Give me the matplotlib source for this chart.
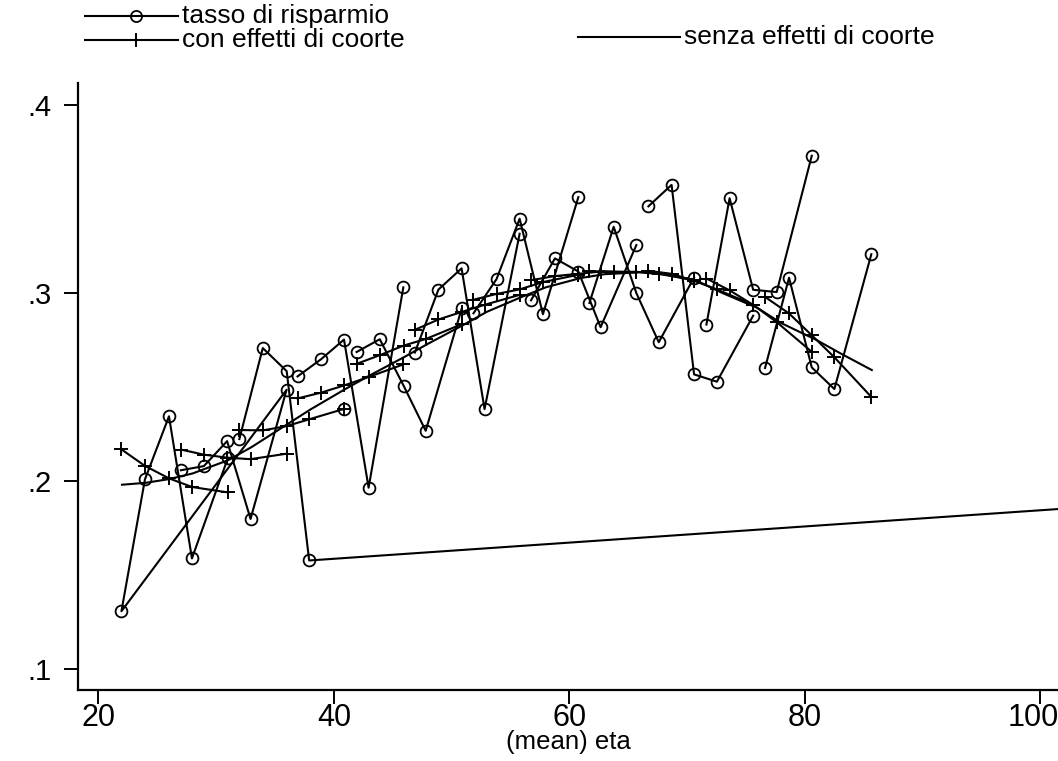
import numpy as np
import matplotlib
matplotlib.use("Agg")
import matplotlib.pyplot as plt
from matplotlib.lines import Line2D
from matplotlib import font_manager
import matplotlib.transforms as mtransforms

# ---- data ----
# mean age of each cohort at each of the 5 survey waves
eta_c1 = [21.95, 23.95, 25.99, 27.94, 31.00]
eta_c2 = [27.00, 28.95, 30.93, 32.92, 35.98]
eta_c3 = [31.97, 33.96, 35.99, 37.90, 40.85]
eta_c4 = [36.91, 38.92, 40.86, 42.95, 45.90]
eta_c5 = [41.93, 43.90, 45.92, 47.80, 50.87]
eta_c6 = [46.88, 48.88, 50.85, 52.80, 55.78]
eta_c7 = [51.86, 53.82, 55.78, 57.76, 60.77]
eta_c8 = [56.75, 58.78, 60.77, 62.66, 65.70]
eta_c9 = [61.71, 63.77, 65.70, 67.60, 70.60]
eta_c10 = [66.72, 68.69, 70.60, 72.54, 75.62]
eta_c11 = [71.65, 73.62, 75.62, 77.62, 80.60]
eta_c12 = [76.63, 78.67, 80.60, 82.52, 85.66]

# tasso di risparmio (observed)
ris_c1 = [0.1307, 0.2009, 0.2344, 0.1588, 0.2123]
ris_c2 = [0.2057, 0.2079, 0.2212, 0.1798, 0.2485]
ris_c3 = [0.2223, 0.2707, 0.2584, 0.1577, 0.2383]
ris_c4 = [0.2556, 0.2648, 0.2752, 0.1964, 0.3030]
ris_c5 = [0.2686, 0.2754, 0.2507, 0.2267, 0.2919]
ris_c6 = [0.2683, 0.3018, 0.3131, 0.2382, 0.3315]
ris_c7 = [0.2892, 0.3074, 0.3395, 0.2887, 0.3510]
ris_c8 = [0.2961, 0.3184, 0.3114, 0.2818, 0.3255]
ris_c9 = [0.2947, 0.3352, 0.2999, 0.2738, 0.3082]
ris_c10 = [0.3461, 0.3575, 0.2567, 0.2528, 0.2879]
ris_c11 = [0.2832, 0.3504, 0.3017, 0.3005, 0.3730]
ris_c12 = [0.2601, 0.3081, 0.2604, 0.2489, 0.3206]
# stray observation beyond the axis range (line from cohort 3)
eta_stray = [110.0]
ris_stray = [0.1887]

# con effetti di coorte (fitted)
con_c1 = [0.2168, 0.2080, 0.2014, 0.1968, 0.1939]
con_c2 = [0.2167, 0.2140, 0.2124, 0.2116, 0.2145]
con_c3 = [0.2271, 0.2269, 0.2292, 0.2328, 0.2383]
con_c4 = [0.2439, 0.2470, 0.2508, 0.2553, 0.2620]
con_c5 = [0.2623, 0.2669, 0.2720, 0.2755, 0.2834]
con_c6 = [0.2804, 0.2859, 0.2899, 0.2937, 0.2990]
con_c7 = [0.2964, 0.2995, 0.3019, 0.3058, 0.3097]
con_c8 = [0.3068, 0.3090, 0.3102, 0.3114, 0.3110]
con_c9 = [0.3115, 0.3113, 0.3113, 0.3101, 0.3071]
con_c10 = [0.3118, 0.3102, 0.3065, 0.3019, 0.2937]
con_c11 = [0.3077, 0.3014, 0.2937, 0.2845, 0.2687]
con_c12 = [0.2979, 0.2891, 0.2775, 0.2658, 0.2447]

# senza effetti di coorte (fitted age profile)
eta_senza = [22.0, 24, 26, 28, 31, 33, 36, 38, 41, 43, 46, 48, 51, 53, 56, 58,
             61, 63, 66, 68, 71, 73, 76, 78, 81, 83, 85.7]
senza = [0.198, 0.199, 0.201, 0.204, 0.211, 0.218, 0.230, 0.238, 0.249, 0.256,
         0.266, 0.273, 0.283, 0.290, 0.298, 0.303, 0.308, 0.310, 0.311, 0.310,
         0.306, 0.300, 0.292, 0.284, 0.275, 0.268, 0.259]

xticks = [20, 40, 60, 80, 100]
yticks = [0.1, 0.2, 0.3, 0.4]
ytick_labels = [".1", ".2", ".3", ".4"]

# ---- assemble series in data order (NaN = break) ----
nan = [np.nan]
eta_all = [eta_c1, eta_c2, eta_c3, eta_c4, eta_c5, eta_c6, eta_c7, eta_c8,
           eta_c9, eta_c10, eta_c11, eta_c12]
ris_all = [ris_c1, ris_c2, ris_c3, ris_c4, ris_c5, ris_c6, ris_c7, ris_c8,
           ris_c9, ris_c10, ris_c11, ris_c12]
con_all = [con_c1, con_c2, con_c3, con_c4, con_c5, con_c6, con_c7, con_c8,
           con_c9, con_c10, con_c11, con_c12]

# observed series: cohort 2 runs straight into cohort 1; cohort 3 runs to the stray point
rx, ry = [], []
rx += eta_c2 + eta_c1 + nan
ry += ris_c2 + ris_c1 + nan
rx += eta_c3[:4] + eta_stray + nan + [eta_c3[4]] + nan
ry += ris_c3[:4] + ris_stray + nan + [ris_c3[4]] + nan
for ex, ey in zip(eta_all[3:], ris_all[3:]):
    rx += ex + nan
    ry += ey + nan

cx, cy = [], []
for ex, ey in zip(eta_all, con_all):
    cx += ex + nan
    cy += ey + nan

plt.rcParams['font.family'] = ['Liberation Sans', 'DejaVu Sans']
installed = {f.name for f in font_manager.fontManager.ttflist}
narrow = 'Liberation Sans Narrow' if 'Liberation Sans Narrow' in installed else 'Liberation Sans'

W, H = 1058, 761
fig = plt.figure(figsize=(W / 100, H / 100), dpi=100)
ax = fig.add_axes([78 / W, 1 - 690 / H, (1058 - 78) / W, (690 - 83) / H])

lw = 1.5
ax.plot(eta_senza, senza, color='black', lw=lw, solid_joinstyle='round')
ax.plot(cx, cy, color='black', lw=lw, marker='+', ms=10, mew=1.4)
ax.plot(rx, ry, color='black', lw=lw, marker='o', ms=8.5, mfc='none', mew=1.3)

ax.set_xlim(18.26, 101.52)
ax.set_ylim(0.0888, 0.4117)
for s in ['top', 'right']:
    ax.spines[s].set_visible(False)
for s in ['left', 'bottom']:
    ax.spines[s].set_linewidth(1.6)
ax.set_xticks(xticks)
ax.set_xticklabels([str(t) for t in xticks])
ax.set_yticks(yticks)
ax.set_yticklabels(ytick_labels)
ax.tick_params(axis='both', direction='out', length=10, width=1.4,
               colors='black')
ax.tick_params(axis='y', pad=9, labelsize=21)
ax.tick_params(axis='x', pad=-1, labelsize=22)
for lab in ax.get_xticklabels():
    lab.set_fontfamily([narrow, 'Liberation Sans', 'DejaVu Sans'])
# keep the last label inside the figure, as in the scan
last = ax.get_xticklabels()[-1]
last.set_transform(last.get_transform() +
                   mtransforms.ScaledTranslation(-7 / 100, 0, fig.dpi_scale_trans))
ax.set_xlabel('(mean) eta', fontsize=18.5, labelpad=-2)

# ---- legend (Stata style, top) ----
def legend_item(x0, x1, y, label, marker=None, mx=None, ms=0, mew=1.3):
    fig.add_artist(Line2D([x0 / W, x1 / W], [1 - y / H, 1 - y / H],
                          color='black', lw=lw, transform=fig.transFigure))
    if marker is not None:
        fig.add_artist(Line2D([mx / W], [1 - y / H], color='black', lw=0,
                              marker=marker, ms=ms, mfc='none', mew=mew,
                              transform=fig.transFigure))
    fig.text((x1 + 4) / W, 1 - y / H, label, fontsize=19, va='center',
             ha='left')

legend_item(85, 178, 16, 'tasso di risparmio', 'o', 136, 8)
legend_item(85, 178, 40, 'con effetti di coorte', '+', 136, 10, 1.4)
legend_item(578, 680, 37, 'senza effetti di coorte')

fig.savefig('out.png', dpi=100)
